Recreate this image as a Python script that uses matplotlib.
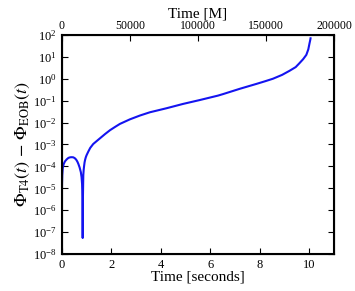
import numpy as np
import matplotlib
matplotlib.use('Agg')
import matplotlib.pyplot as plt

# values (time in seconds, phase difference)
t_sec = [0.0, 0.002, 0.005, 0.01, 0.02, 0.04, 0.08, 0.13, 0.2, 0.27, 0.34, 0.40,
         0.46, 0.52, 0.58, 0.63, 0.67, 0.72, 0.77, 0.80, 0.82, 0.835, 0.845,
         0.855, 0.865, 0.87, 0.885, 0.9, 0.92, 0.94, 0.97, 1.0, 1.07, 1.15, 1.27, 1.4, 1.54,
         1.75, 1.95, 2.15, 2.35, 2.75, 3.16, 3.56, 4.23, 4.9, 5.58, 6.31, 6.52,
         7.2, 7.86, 8.2, 8.53, 8.9, 9.2, 9.45, 9.6, 9.75, 9.88, 9.96,
         10.01, 10.04, 10.05]
dphi = [1.2e-7, 1e-6, 5e-6, 1.5e-5, 4e-5, 8.5e-5, 1.3e-4, 1.7e-4, 2.1e-4, 2.45e-4, 2.6e-4, 2.63e-4,
        2.6e-4, 2.4e-4, 2.05e-4, 1.65e-4, 1.3e-4, 9e-5, 5.5e-5, 3.2e-5, 1.6e-5, 4e-6, 5.4e-8,
        4e-6, 2e-5, 4e-5, 7e-5, 1e-4, 1.5e-4, 1.95e-4, 2.6e-4, 3.2e-4, 4.7e-4, 7e-4, 1.05e-3, 1.4e-3, 1.9e-3,
        3.0e-3, 4.5e-3, 6.3e-3, 8.7e-3, 1.4e-2, 2.1e-2, 2.95e-2, 4.5e-2, 7.1e-2, 1.07e-1, 1.7e-1, 2.0e-1,
        3.5e-1, 5.8e-1, 7.6e-1, 1.0, 1.5, 2.3, 3.4, 5.1, 7.8, 12.3, 22.0,
        42.0, 60.0, 70.0]

top_ticks = [0, 50000, 100000, 150000, 200000]

plt.rcParams['font.family'] = 'serif'
plt.rcParams['font.serif'] = ['Liberation Serif']
plt.rcParams['mathtext.fontset'] = 'stix'

fig = plt.figure(figsize=(3.55, 2.91), dpi=100)
ax = fig.add_axes([0.174, 0.127, 0.767, 0.753])
ax.semilogy(t_sec, dphi, color='#1414f0', lw=1.5)
ax.set_xlim(0, 11)
ax.set_ylim(1e-8, 1e2)
ax.set_yticks([10.0**k for k in range(-8, 3)])
ax.set_xticks([0, 2, 4, 6, 8, 10])
ax.set_xlabel('Time [seconds]', fontsize=11, labelpad=0)
ax.set_ylabel(r'$\Phi_{\rm T4}(t)\,-\,\Phi_{\rm EOB}(t)$', fontsize=13, labelpad=1)
ax.tick_params(which='both', direction='in', right=True, labelsize=9)
ax.tick_params(which='major', length=4, width=0.8)
ax.tick_params(which='minor', length=2, width=0.6)
ax.tick_params(axis='x', top=False)
for s in ax.spines.values():
    s.set_linewidth(1.5)

ax2 = ax.twiny()
ax2.set_xlim(0, 200000)
ax2.set_xticks(top_ticks)
ax2.tick_params(direction='in', labelsize=8.5, length=4, width=0.8, pad=2)
ax2.set_xlabel('Time [M]', fontsize=11, labelpad=2)

fig.savefig('out.png', dpi=100)
